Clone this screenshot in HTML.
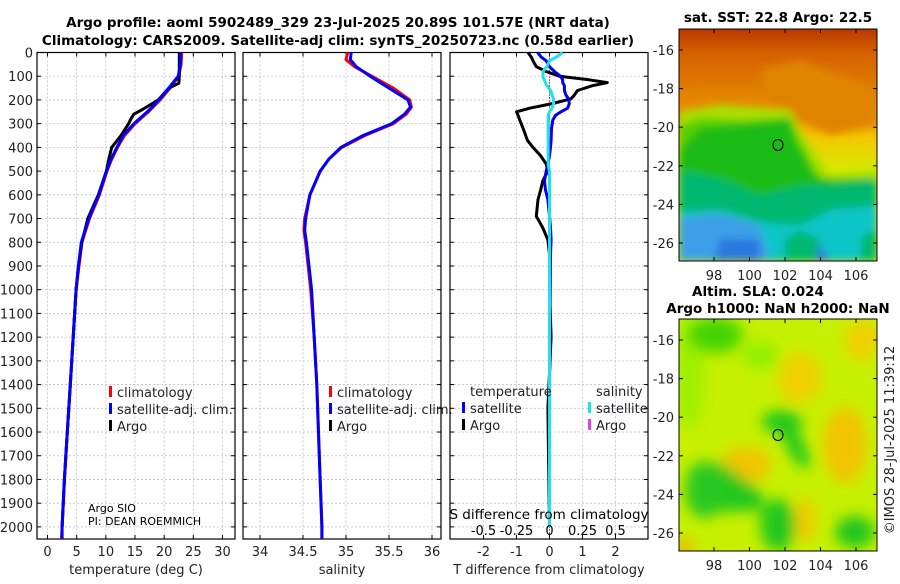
<!DOCTYPE html>
<html><head><meta charset="utf-8">
<style>
body{margin:0;background:#fff;width:900px;height:580px;overflow:hidden;font-family:"DejaVu Sans","Liberation Sans",sans-serif}
svg text{font-family:"DejaVu Sans","Liberation Sans",sans-serif}
</style></head>
<body>
<svg id="fig" width="900" height="580" viewBox="0 0 900 580" xmlns="http://www.w3.org/2000/svg">
<defs>
<filter id="bl" x="-20%" y="-20%" width="140%" height="140%"><feGaussianBlur stdDeviation="4"/></filter>
<filter id="bl2" x="-20%" y="-20%" width="140%" height="140%"><feGaussianBlur stdDeviation="7"/></filter>
<clipPath id="m1"><rect x="679" y="29" width="198" height="232"/></clipPath>
<clipPath id="m2"><rect x="679" y="319" width="198" height="232"/></clipPath>
<linearGradient id="sstg" x1="0" y1="0" x2="0" y2="1">
<stop offset="0" stop-color="#b83800"/><stop offset="0.1" stop-color="#d46000"/><stop offset="0.25" stop-color="#e07c00"/><stop offset="0.38" stop-color="#ea9600"/><stop offset="0.47" stop-color="#f2c800"/><stop offset="0.6" stop-color="#d8e800"/><stop offset="1" stop-color="#d8e800"/>
</linearGradient>
</defs>
<g font-weight="bold" font-size="13.5" text-anchor="middle" fill="#000">
<text x="338" y="27">Argo profile: aoml 5902489_329 23-Jul-2025 20.89S 101.57E (NRT data)</text>
<text x="338" y="45">Climatology: CARS2009. Satellite-adj clim: synTS_20250723.nc (0.58d earlier)</text>
</g>
<g id="panels"></g>
<g>
<text x="778" y="22" font-size="13.5" font-weight="bold" text-anchor="middle">sat. SST: 22.8 Argo: 22.5</text>
<g clip-path="url(#m1)">
<rect x="679" y="29" width="198" height="232" fill="url(#sstg)"/>
<g filter="url(#bl)">
<polygon fill="#e08400" points="760,70 800,60 877,90 877,125 830,135 800,120 770,105" />
<polygon fill="#a8e000" points="679,112 720,105 790,110 800,130 830,175 877,170 877,200 679,200"/>
<polygon fill="#58d000" points="679,125 700,118 740,120 790,118 800,140 820,178 877,178 877,200 679,200"/>
<polygon fill="#1cbc18" points="679,150 700,128 730,125 760,122 790,118 795,140 815,175 835,182 877,178 877,210 679,210"/>
<polygon fill="#00b870" points="679,170 720,178 760,195 800,185 830,185 877,180 877,261 679,261"/>
<polygon fill="#10c4c8" points="679,212 720,210 760,222 800,225 830,210 877,205 877,261 679,261"/>
<polygon fill="#3aa0e8" points="679,218 720,214 760,225 770,261 679,261"/>
<polygon fill="#2a78e0" points="720,238 760,240 760,261 715,261"/>
<polygon fill="#2a78e0" points="790,250 820,245 830,261 790,261"/>
<polygon fill="#00b870" points="785,240 800,230 820,240 815,261 785,261"/>
<polygon fill="#00b870" points="862,236 877,230 877,261 860,261"/>
</g>
</g>
<rect x="679" y="29" width="198" height="232" fill="none" stroke="#000" stroke-width="1"/>
<ellipse cx="778" cy="145" rx="5" ry="5.5" fill="none" stroke="#000" stroke-width="1"/>
<g id="m1ticks"></g>
</g>
<g>
<text x="758" y="296" font-size="13.5" font-weight="bold" text-anchor="middle">Altim. SLA: 0.024</text>
<text x="778" y="313" font-size="13.5" font-weight="bold" text-anchor="middle">Argo h1000: NaN h2000: NaN</text>
<g clip-path="url(#m2)">
<rect x="679" y="319" width="198" height="232" fill="#c6f000"/>
<g filter="url(#bl2)">
<ellipse cx="690" cy="370" rx="14" ry="60" fill="#9cf000"/>
<ellipse cx="715" cy="335" rx="28" ry="18" fill="#44d400"/>
<ellipse cx="760" cy="355" rx="18" ry="14" fill="#90f000"/>
<ellipse cx="800" cy="378" rx="22" ry="25" fill="#f0d000"/>
<ellipse cx="862" cy="340" rx="18" ry="20" fill="#f0d000"/>
<ellipse cx="845" cy="445" rx="22" ry="38" fill="#f2c400"/>
<ellipse cx="746" cy="465" rx="25" ry="18" fill="#f2c400"/>
<ellipse cx="805" cy="520" rx="10" ry="22" fill="#f2c800"/>
<ellipse cx="782" cy="422" rx="20" ry="12" fill="#22c81c"/>
<polygon fill="#22c81c" points="775,420 795,425 812,460 805,470 790,455"/>
<polygon fill="#22c81c" points="690,465 720,462 760,490 765,510 720,512 690,505"/>
<ellipse cx="705" cy="490" rx="20" ry="28" fill="#2ac820"/>
<ellipse cx="778" cy="525" rx="18" ry="26" fill="#22c81c"/>
<ellipse cx="855" cy="532" rx="20" ry="16" fill="#22c81c"/>
<ellipse cx="685" cy="548" rx="10" ry="8" fill="#f0b000"/>
</g>
</g>
<rect x="679" y="319" width="198" height="232" fill="none" stroke="#000" stroke-width="1"/>
<ellipse cx="778" cy="435" rx="5" ry="5.5" fill="none" stroke="#000" stroke-width="1"/>
<g id="m2ticks"></g>
</g>
<text transform="translate(894,440) rotate(-90)" font-size="13" text-anchor="middle" fill="#222">©IMOS 28-Jul-2025 11:39:12</text>
</svg>
<script>
const depthTicks=[0,100,200,300,400,500,600,700,800,900,1000,1100,1200,1300,1400,1500,1600,1700,1800,1900,2000];
const tTicks=[0,5,10,15,20,25,30];
const sTicks=[34,34.5,35,35.5,36];
const dTicks=[-2,-1,0,1,2];
const sdTickLabels=["-0.5","-0.25","0","0.25","0.5"];
const sdTickValues=[-0.5,-0.25,0,0.25,0.5];
const tClimDepth=[0,50,100,150,200,250,300,350,400,450,500,600,700,800,900,1000,1200,1400,1600,1800,2000,2050];
const tClim=[23.0,22.9,22.5,21.0,19.3,17.3,15.0,13.2,12.0,11.0,10.2,8.9,7.2,5.9,5.4,4.9,4.4,3.9,3.4,2.9,2.5,2.4];
const tSat=[22.8,22.8,22.4,20.8,19.1,17.1,14.8,13.0,11.9,10.9,10.1,8.8,7.1,5.8,5.3,4.9,4.4,3.9,3.4,2.9,2.5,2.5];
const tArgoDepth=[0,60,100,130,150,200,240,260,280,300,350,400,450,500,600,700,800,900,1000,1200,1400,1600,1800,2000];
const tArgo=[22.6,22.6,22.6,22.5,20.8,19.0,16.3,14.8,14.3,13.9,12.6,11.0,10.5,10.1,8.7,6.9,5.9,5.3,4.9,4.4,3.9,3.4,2.9,2.5];
const sDepth=[0,30,60,100,150,200,230,260,300,350,400,450,500,600,700,750,800,1000,1200,1400,1700,2000,2050];
const sClim=[35.02,35.0,35.1,35.3,35.55,35.74,35.76,35.7,35.55,35.22,34.95,34.8,34.7,34.58,34.52,34.51,34.53,34.59,34.63,34.66,34.69,34.72,34.72];
const sSat=[35.06,35.05,35.12,35.28,35.5,35.72,35.75,35.68,35.53,35.2,34.94,34.8,34.7,34.58,34.53,34.52,34.54,34.6,34.63,34.66,34.69,34.72,34.72];
const dDepth=[0,20,35,60,80,100,115,127,140,160,180,195,215,235,250,265,285,320,370,400,435,470,500,540,580,620,690,740,790,850,1000,1200,1500,2000];
const tDiffArgo=[-0.65,-0.55,-0.5,-0.4,-0.1,0.3,1.2,1.75,1.3,0.85,0.75,0.65,0.1,-0.6,-1.0,-0.95,-0.9,-0.8,-0.67,-0.5,-0.27,-0.1,-0.05,-0.2,-0.27,-0.35,-0.4,-0.2,-0.05,0.0,0.0,0.05,-0.05,0.0];
const tDiffSat=[-0.36,-0.25,-0.1,0.0,0.15,0.33,0.4,0.4,0.45,0.45,0.5,0.58,0.6,0.55,0.35,0.18,0.1,0.06,0.05,0.03,0.0,-0.05,-0.1,-0.15,-0.12,-0.05,0.0,0.03,0.05,0.03,0.02,0.01,0.0,0.0];
const sDiffSat=[0.1,0.05,0.0,-0.02,-0.05,-0.05,-0.04,-0.03,-0.02,0.01,0.02,0.03,0.03,0.02,0.0,-0.01,-0.01,-0.01,-0.01,-0.01,-0.01,-0.01,0.0,0.0,0.0,0.0,0.0,0.0,0.0,0.0,0.0,0.0,0.0,0.0];
const mapLonTicks=[98,100,102,104,106];
const mapLatTicks=[-16,-18,-20,-22,-24,-26];

const Y0=52.5, YB=539;
const yS=d=>Y0+d*0.2372;
function lin(d0,d1,r0,r1){return v=>r0+(v-d0)/(d1-d0)*(r1-r0);}
const NS="http://www.w3.org/2000/svg";
const root=document.getElementById('panels');
function mk(tag,attrs,parent){const e=document.createElementNS(NS,tag);for(const k in attrs)e.setAttribute(k,attrs[k]);(parent||root).appendChild(e);return e;}
function txt(x,y,s,attrs,parent){const e=mk('text',Object.assign({x:x,y:y,'font-size':13,fill:'#222'},attrs||{}),parent);e.textContent=s;return e;}

function panel(name,x0,x1,xs,ticks,labels,xlabel,showY){
  const g=mk('g',{});
  
  
  ticks.forEach(t=>{mk('line',{x1:xs(t),x2:xs(t),y1:Y0,y2:YB,stroke:'#b8c0e0','stroke-width':0.8,'stroke-dasharray':'2,2'},g);});
  depthTicks.forEach(d=>{mk('line',{x1:x0,x2:x1,y1:yS(d),y2:yS(d),stroke:'#b8c0e0','stroke-width':0.8,'stroke-dasharray':'2,2'},g);
    mk('line',{x1:x0,x2:x0+4,y1:yS(d),y2:yS(d),stroke:'#000'},g);mk('line',{x1:x1-4,x2:x1,y1:yS(d),y2:yS(d),stroke:'#000'},g);
    if(showY){const t=txt(x0-4,yS(d)+5,String(d),{'text-anchor':'end'},g);}});
  ticks.forEach((t,i)=>{mk('line',{x1:xs(t),x2:xs(t),y1:YB,y2:YB-4,stroke:'#000'},g);mk('line',{x1:xs(t),x2:xs(t),y1:Y0,y2:Y0+4,stroke:'#000'},g);
    if(labels){const l=txt(xs(t),YB+17,labels[i],{'text-anchor':'middle'},g);}});
  mk('rect',{x:x0,y:Y0,width:x1-x0,height:YB-Y0,fill:'none',stroke:'#000','stroke-width':1.2},g);
  const xl=txt((x0+x1)/2,YB+35,xlabel,{'text-anchor':'middle'},g);
  
  
  return g;
}
function line(g,name,depths,vals,xs,color,w){
  const pts=depths.map((d,i)=>xs(vals[i]).toFixed(1)+','+yS(d).toFixed(1)).join(' ');
  const p=mk('polyline',{points:pts,fill:'none',stroke:color,'stroke-width':w||3,'stroke-linejoin':'round'},g);
  
  
}
function legend(g,x,y,items){
  items.forEach((it,i)=>{
    const m=mk('rect',{x:x,y:y+i*17-11,width:3,height:11,fill:it[1]},g);
    
    
    const t=txt(x+8,y+i*17,it[0],{},g);
    
    
  });
}
const xT=lin(0,30,47.5,222.5);
const g1=panel('temperature',37,235,xT,tTicks,tTicks.map(String),'temperature (deg C)',true);
line(g1,'temp-climatology-line',tClimDepth,tClim,xT,'#f00');
line(g1,'temp-argo-line',tArgoDepth,tArgo,xT,'#000');
line(g1,'temp-satellite-line',tClimDepth,tSat,xT,'#00f');
legend(g1,109,397,[['climatology','#f00'],['satellite-adj. clim.','#00f'],['Argo','#000']]);
txt(88,512,'Argo SIO',{'font-size':11,fill:'#000'},g1);
txt(88,525,'PI: DEAN ROEMMICH',{'font-size':11,fill:'#000'},g1);
const xS=lin(34,36,260,432);
const g2=panel('salinity',243,441,xS,sTicks,sTicks.map(String),'salinity',false);
line(g2,'sal-climatology-line',sDepth,sClim,xS,'#f00');
line(g2,'sal-satellite-line',sDepth,sSat,xS,'#00f');
legend(g2,329,397,[['climatology','#f00'],['satellite-adj. clim.','#00f'],['Argo','#000']]);
const xD=lin(-2,2,483.5,615.5);
const xSD=v=>xD(v*4);
const g3=panel('difference',450,648,xD,dTicks,dTicks.map(String),'T difference from climatology',false);
mk('line',{x1:xD(0),x2:xD(0),y1:Y0,y2:YB,stroke:'#000','stroke-width':1,'stroke-dasharray':'1,2'},g3);
line(g3,'tdiff-argo-line',dDepth,tDiffArgo,xD,'#000');
line(g3,'tdiff-satellite-line',dDepth,tDiffSat,xD,'#00e');
line(g3,'sdiff-satellite-line',dDepth,sDiffSat,xSD,'#20e0e8');
txt(470,396,'temperature',{},g3);
txt(596,396,'salinity',{},g3);
legend(g3,462,413,[['satellite','#00f'],['Argo','#000']]);
legend(g3,588,413,[['satellite','#20e0e8'],['Argo','#e040e0']]);
const st=txt(549,519,'S difference from climatology',{'text-anchor':'middle',fill:'#000','font-size':13.5},g3);


sdTickValues.forEach((v,i)=>{const l=txt(xSD(v),535,sdTickLabels[i],{'text-anchor':'middle',fill:'#000'},g3);});
function mapTicks(id,top,bot,lat16y,lat26y){
  const g=document.getElementById(id);
  const xm=lin(98,106,714,856), ym=lin(-16,-26,lat16y,lat26y);
  mapLonTicks.forEach(v=>{mk('line',{x1:xm(v),x2:xm(v),y1:bot,y2:bot-4,stroke:'#000'},g);mk('line',{x1:xm(v),x2:xm(v),y1:top,y2:top+4,stroke:'#000'},g);
    const t=txt(xm(v),bot+19,String(v),{'text-anchor':'middle'},g);});
  mapLatTicks.forEach(v=>{mk('line',{x1:679,x2:683,y1:ym(v),y2:ym(v),stroke:'#000'},g);mk('line',{x1:873,x2:877,y1:ym(v),y2:ym(v),stroke:'#000'},g);
    const t=txt(674,ym(v)+5,String(v),{'text-anchor':'end'},g);});
}
mapTicks('m1ticks',29,261,50,243);
mapTicks('m2ticks',319,551,340,533);
</script>
</body></html>
